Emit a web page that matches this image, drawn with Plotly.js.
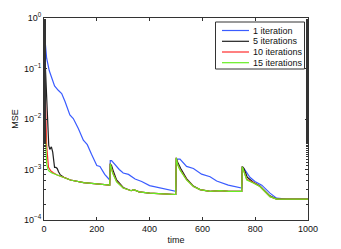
<!DOCTYPE html>
<html><head><meta charset="utf-8">
<script src="https://cdn.plot.ly/plotly-3.0.1.min.js"></script>
<style>html,body{margin:0;padding:0;background:#fff}#c{width:341px;height:249px}</style>
</head><body><div id="c"></div>
<script>
const seriesNames = ["1 iteration", "5 iterations", "10 iterations", "15 iterations"];
const colors = ["#3a5cff", "#202020", "#ff2a2a", "#66ee22"];

const t1 = [0,5,10,20,30,40,54,67,80,98,111,130,149,164,180,200,212,230,249,251,256,265,285,300,320,345,370,400,440,477,499,502,515,540,566,597,629,654,698,749,751,761,780,799,825,856,881,920,960,1000];
const v1 = [0.63,0.3,0.16,0.09,0.06,0.045,0.037,0.032,0.022,0.012,0.0102,0.0065,0.0038,0.0031,0.002,0.0012,0.00115,0.0008,0.00062,0.0015,0.0015,0.0013,0.001,0.00085,0.0008,0.00065,0.00058,0.00048,0.00043,0.00039,0.00037,0.0016,0.0016,0.00115,0.00105,0.00081,0.00072,0.00059,0.00049,0.00043,0.00115,0.00098,0.0007,0.00058,0.00049,0.00034,0.00027,0.00026,0.00026,0.00026];

const t5 = [0,5,12,18,22,28,33,40,45,50,55,62,75,100,150,200,249,251,256,262,275,300,330,340,360,400,450,499,501,506,518,540,566,591,629,667,700,749,751,757,770,793,818,856,881,920,960,1000];
const v5 = [0.46,0.1,0.01,0.003,0.0025,0.0028,0.0022,0.0011,0.0011,0.00105,0.0009,0.00078,0.0007,0.00062,0.00055,0.00051,0.00049,0.0013,0.0012,0.00095,0.00062,0.00044,0.00038,0.0004,0.00036,0.00034,0.00033,0.00032,0.0017,0.0014,0.00105,0.00066,0.00047,0.0004,0.00037,0.00038,0.00037,0.00037,0.00114,0.00105,0.0007,0.00056,0.00047,0.0003,0.00026,0.00026,0.00026,0.00026];

const t10 = [0,3,6,10,17,25,35,50,75,100,150,200,249,251,255,260,275,300,330,340,360,400,450,499,501,505,515,540,566,591,629,667,700,749,751,755,768,793,818,856,881,920,960,1000];
const v10 = [0.27,0.05,0.01,0.003,0.0011,0.00095,0.00086,0.00078,0.0007,0.00062,0.00055,0.00051,0.00049,0.0013,0.0011,0.00087,0.00058,0.00043,0.00038,0.0004,0.00036,0.00034,0.00033,0.00032,0.0017,0.0013,0.001,0.00063,0.00046,0.0004,0.00037,0.00038,0.00037,0.00037,0.00114,0.001,0.00064,0.00055,0.00046,0.00029,0.00026,0.00026,0.00026,0.00026];

const t15 = [0,3,6,10,15,20,30,50,75,100,150,200,249,251,255,260,275,300,330,340,360,400,450,499,501,505,515,540,566,591,629,667,700,749,751,755,768,793,818,856,881,920,960,1000];
const v15 = [0.15,0.02,0.004,0.0013,0.001,0.00092,0.00085,0.00078,0.0007,0.00062,0.00055,0.00051,0.00049,0.0013,0.0011,0.00085,0.00057,0.00043,0.00038,0.0004,0.00036,0.00034,0.00033,0.00032,0.0017,0.0013,0.00098,0.00062,0.00046,0.0004,0.00037,0.00038,0.00037,0.00037,0.00114,0.001,0.00062,0.00054,0.00046,0.00029,0.00026,0.00026,0.00026,0.00026];

const xTicks = [0,200,400,600,800,1000];
const yTicks = [1e-4,1e-3,1e-2,1e-1,1];
const yTickText = ["10<sup>−4</sup>","10<sup>−3</sup>","10<sup>−2</sup>","10<sup>−1</sup>","10<sup>0</sup>"];

const xs = [t1,t5,t10,t15], ys = [v1,v5,v10,v15];
const traces = xs.map((x,i)=>({x:x,y:ys[i],type:'scatter',mode:'lines',name:seriesNames[i],
  line:{color:colors[i],width:1.2},showlegend:false}));

// legend drawn in paper coordinates (plot area 44..308 x 18..220)
const W = 264, H = 202, L = 44, T = 18;
const px = v => (v - L) / W, py = v => 1 - (v - T) / H;
const shapes = [{type:'rect',xref:'paper',yref:'paper',x0:px(215.5),x1:px(304.5),y0:py(69),y1:py(22),
  line:{color:'#333',width:1},fillcolor:'#fff',layer:'above'}];
const annotations = [];
const rowY = [30.5, 41.3, 52, 62.7];
seriesNames.forEach((n,i)=>{
  shapes.push({type:'line',xref:'paper',yref:'paper',x0:px(222),x1:px(249),y0:py(rowY[i]),y1:py(rowY[i]),
    line:{color:colors[i],width:1.2},layer:'above'});
  annotations.push({xref:'paper',yref:'paper',x:px(251),y:py(rowY[i]),xanchor:'left',yanchor:'middle',
    text:n,showarrow:false,font:{size:9,color:'#111'}});
});

const axcol = '#333';
const layout = {
  width:341,height:249,
  margin:{l:44,r:33,t:18,b:29},
  paper_bgcolor:'#fff',plot_bgcolor:'#fff',
  font:{family:'Liberation Sans, Arial, sans-serif',size:9,color:'#111'},
  showlegend:false,
  shapes:shapes, annotations:annotations,
  xaxis:{range:[0,1000],tickvals:xTicks,ticktext:xTicks.map(String),ticks:'inside',ticklen:3,
    showline:true,linecolor:axcol,linewidth:1,mirror:'allticks',tickcolor:axcol,showgrid:false,zeroline:false,
    tickfont:{size:9},
    title:{text:'time',font:{size:9},standoff:3}},
  yaxis:{type:'log',range:[-4,0],tickvals:yTicks,ticktext:yTickText,ticks:'inside',ticklen:3,
    showline:true,linecolor:axcol,linewidth:1,mirror:'allticks',tickcolor:axcol,showgrid:false,zeroline:false,
    tickfont:{size:9},
    minor:{ticks:'inside',ticklen:2,tickcolor:axcol,showgrid:false},
    title:{text:'MSE',font:{size:9},standoff:3}}
};
Plotly.newPlot('c',traces,layout,{displayModeBar:false,staticPlot:true});
</script></body></html>
